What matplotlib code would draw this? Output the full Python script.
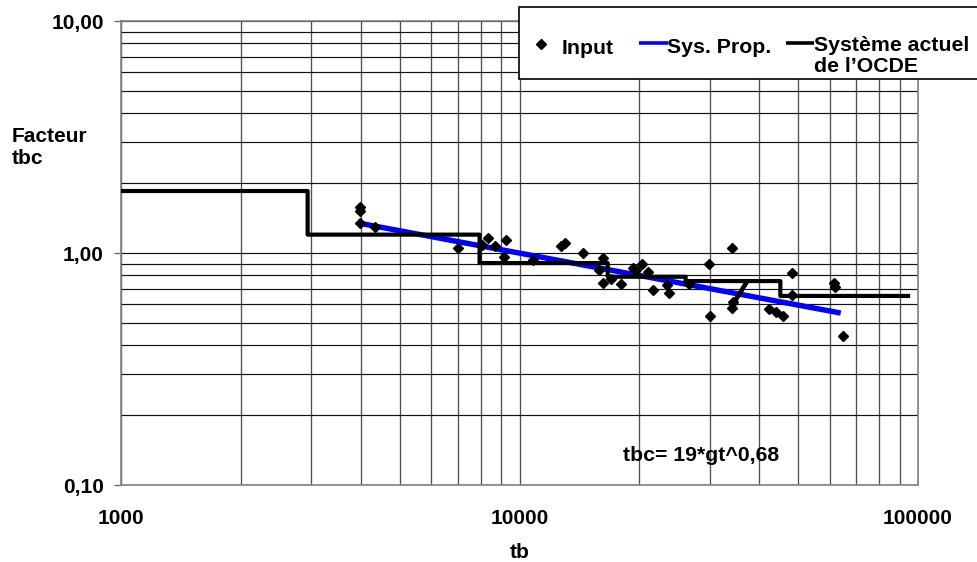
import matplotlib
matplotlib.use("Agg")
import matplotlib.pyplot as plt
from matplotlib.ticker import FixedLocator, NullFormatter, LogLocator
from matplotlib.patches import Rectangle
from matplotlib.lines import Line2D

plt.rcParams['font.family'] = ['Liberation Sans', 'DejaVu Sans']
plt.rcParams['font.weight'] = 'bold'

# ---- data ----
input_tb = [3968, 3968, 3968, 4343, 7002, 8043, 8360, 8704, 9261, 9117,
            10800, 12725, 12971, 14417, 16183, 15812, 16156, 16920, 17960, 19250,
            19607, 20240, 21036, 21603, 23384, 23682, 26598, 29805, 34236, 30096,
            34295, 34236, 42280, 43900, 45790, 48240, 48170, 61380, 61740, 64780]
input_tbc = [1.579, 1.517, 1.343, 1.298, 1.048, 1.083, 1.166, 1.075, 1.141, 0.964,
             0.933, 1.072, 1.099, 0.997, 0.949, 0.841, 0.740, 0.770, 0.735, 0.859,
             0.841, 0.897, 0.831, 0.691, 0.728, 0.672, 0.734, 0.895, 1.056, 0.536,
             0.615, 0.579, 0.571, 0.557, 0.536, 0.822, 0.661, 0.739, 0.717, 0.440]

prop_tb = [4000, 64000]
prop_tbc = [1.34, 0.551]

oecd_tb = [1000, 2940, 2940, 7940, 7940, 16650, 16650, 26110, 26110,
           37300, 34000, 37300, 45140, 45140, 94400]
oecd_tbc = [1.85, 1.85, 1.2, 1.2, 0.905, 0.905, 0.79, 0.79, 0.757,
            0.757, 0.585, 0.757, 0.757, 0.653, 0.653]

y_ticks = [0.1, 1.0, 10.0]
y_ticklabels = ['0,10', '1,00', '10,00']
x_ticks = [1000, 10000, 100000]
x_ticklabels = ['1000', '10000', '100000']

legend_labels = ['Input', 'Sys. Prop.', 'Système actuel\nde l\u2019OCDE']
annotation = 'tbc= 19*gt^0,68'

W, H = 977, 562
fig = plt.figure(figsize=(W / 100, H / 100), dpi=100)
L, T, R, B = 121, 21, 918, 485
ax = fig.add_axes([L / W, 1 - B / H, (R - L) / W, (B - T) / H])

ax.set_xscale('log')
ax.set_yscale('log')
ax.set_xlim(1000, 100000)
ax.set_ylim(0.1, 10)

# grid
ax.xaxis.set_minor_locator(LogLocator(base=10, subs=range(2, 10)))
ax.yaxis.set_minor_locator(LogLocator(base=10, subs=range(2, 10)))
ax.xaxis.set_minor_formatter(NullFormatter())
ax.yaxis.set_minor_formatter(NullFormatter())
ax.grid(True, axis='y', which='both', color='#111111', linewidth=0.85)
ax.grid(True, axis='x', which='both', color='#505050', linewidth=0.95)
ax.set_axisbelow(True)

# series
ax.plot(prop_tb, prop_tbc, color='#0000FF', linewidth=3.9, solid_capstyle='butt', zorder=3)
ax.plot(oecd_tb, oecd_tbc, color='black', linewidth=3.0, solid_joinstyle='round', zorder=4)
ax.plot(input_tb, input_tbc, linestyle='none', marker='D', markersize=5.6,
        color='black', zorder=5)

# ticks
ax.yaxis.set_major_locator(FixedLocator(y_ticks))
ax.set_yticklabels(y_ticklabels)
ax.xaxis.set_major_locator(FixedLocator(x_ticks))
ax.set_xticklabels(x_ticklabels)
ax.tick_params(axis='y', which='major', length=5, width=1, color='#707070',
               pad=7.5, labelsize=15)
ax.tick_params(axis='x', which='major', length=0, pad=17.5, labelsize=15)
ax.tick_params(which='minor', length=0)
for lab in ax.get_xticklabels() + ax.get_yticklabels():
    lab.set_fontweight('bold')

for s in ax.spines.values():
    s.set_color('#808080')
    s.set_linewidth(1.2)

# labels
ax.set_xlabel('tb', fontsize=15, fontweight='bold', va='top')
ax.xaxis.set_label_coords(0.5, (B - 543) / (B - T))
ax.set_ylabel('Facteur\ntbc', fontsize=15, fontweight='bold', rotation=0,
              ha='left', va='top', linespacing=1.2)
ax.yaxis.set_label_coords((12 - L) / (R - L), (B - 127) / (B - T))

ax.text((623 - L) / (R - L), (B - 461) / (B - T), annotation, transform=ax.transAxes,
        fontsize=15.3, fontweight='bold', ha='left', va='baseline', zorder=6)

# legend (drawn in figure pixel space)
def fx(px):
    return px / W

def fy(py):
    return 1 - py / H

fig.add_artist(Rectangle((fx(519), fy(79)), fx(1020) - fx(519), fy(7) - fy(79),
                         transform=fig.transFigure, facecolor='white',
                         edgecolor='black', linewidth=1.2, zorder=10))
fig.add_artist(Line2D([fx(541)], [fy(44)], transform=fig.transFigure, marker='D',
                      markersize=4.8, color='black', linestyle='none', zorder=11))
fig.add_artist(Line2D([fx(639), fx(668)], [fy(43), fy(43)], transform=fig.transFigure,
                      color='#0000FF', linewidth=2.6, solid_capstyle='butt', zorder=11))
fig.add_artist(Line2D([fx(786), fx(814)], [fy(43), fy(43)], transform=fig.transFigure,
                      color='black', linewidth=2.6, solid_capstyle='butt', zorder=11))
fig.text(fx(562), fy(54), legend_labels[0], fontsize=15.3, fontweight='bold',
         ha='left', va='baseline', zorder=12)
fig.text(fx(667), fy(53), legend_labels[1], fontsize=15.3, fontweight='bold',
         ha='left', va='baseline', zorder=12)
fig.text(fx(814), fy(36), legend_labels[2], fontsize=15.3, fontweight='bold',
         ha='left', va='top', linespacing=1.15, zorder=12)

fig.savefig('out.png', dpi=100)
